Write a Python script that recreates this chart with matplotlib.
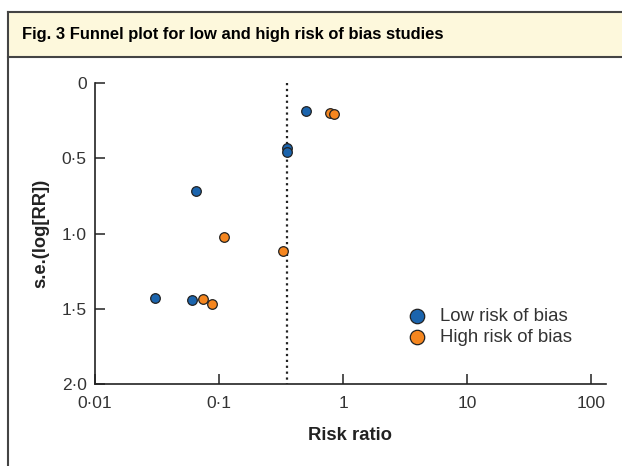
import matplotlib
matplotlib.use('Agg')
import matplotlib.pyplot as plt
from matplotlib.patches import Rectangle
from matplotlib.lines import Line2D

plt.rcParams['font.family'] = ['Liberation Sans', 'DejaVu Sans']

# Study data
low_rr = [0.50, 0.351, 0.353, 0.065, 0.0306, 0.0608]
low_se = [0.184, 0.434, 0.46, 0.716, 1.426, 1.442]
high_rr = [0.783, 0.847, 0.109, 0.327, 0.0747, 0.088]
high_se = [0.197, 0.205, 1.023, 1.116, 1.433, 1.466]
pooled_rr = 0.352

x_ticks = [0.01, 0.1, 1, 10, 100]
x_ticklabels = ['0·01', '0·1', '1', '10', '100']
y_ticks = [0, 0.5, 1.0, 1.5, 2.0]
y_ticklabels = ['0', '0·5', '1·0', '1·5', '2·0']

blue = '#1b64ad'
orange = '#f5861f'

W, H = 622, 466
fig = plt.figure(figsize=(W / 100, H / 100), dpi=100)

# header band and frame
fig.patches.append(Rectangle((8 / W, 1 - 57 / H), 1, 45 / H, transform=fig.transFigure,
                             facecolor='#fdf8dc', edgecolor='none', zorder=0))
frame = dict(transform=fig.transFigure, color='#444444', lw=1.5)
fig.lines.append(Line2D([8 / W, 8 / W], [0, 1 - 12 / H], **frame))
fig.lines.append(Line2D([8 / W, 1], [1 - 12 / H, 1 - 12 / H], **frame))
fig.lines.append(Line2D([8 / W, 1], [1 - 57 / H, 1 - 57 / H], **frame))
fig.text(22 / W, 1 - 35 / H, 'Fig. 3 Funnel plot for low and high risk of bias studies',
         fontsize=11.9, fontweight='bold', va='center', ha='left')

ax = fig.add_axes([95 / W, 1 - 384 / H, 511 / W, 301 / H])
ax.set_xscale('log')
ax.set_xlim(0.01, 132)
ax.set_ylim(2.0, 0)

ax.plot([pooled_rr, pooled_rr], [0, 2.0], color='#222222', linestyle=':', lw=1.6, zorder=1)

ax.scatter(low_rr, low_se, s=48, color=blue, edgecolor='#222222', linewidth=0.9,
           zorder=3, label='Low risk of bias')
ax.scatter(high_rr, high_se, s=48, color=orange, edgecolor='#222222', linewidth=0.9,
           zorder=3, label='High risk of bias')

for side in ['top', 'right']:
    ax.spines[side].set_visible(False)
for side in ['left', 'bottom']:
    ax.spines[side].set_linewidth(1.2)
    ax.spines[side].set_color('#222222')

ax.set_xticks(x_ticks)
ax.set_xticklabels(x_ticklabels)
ax.minorticks_off()
ax.set_yticks(y_ticks)
ax.set_yticklabels(y_ticklabels)
ax.tick_params(direction='in', length=7.5, width=1.1, color='#222222',
               labelsize=12.5, labelcolor='#333333')
ax.tick_params(axis='x', pad=9)
ax.tick_params(axis='y', pad=6)

ax.set_xlabel('Risk ratio', fontsize=13.3, fontweight='bold', color='#222222', labelpad=11)
ax.set_ylabel('s.e.(log[RR])', fontsize=13.2, fontweight='bold', color='#222222', labelpad=9)

leg = ax.legend(loc='center left', bbox_to_anchor=(0.612, 0.19), frameon=False,
                fontsize=13.4, handlelength=1.0, handletextpad=0.75, labelspacing=0.2,
                borderpad=0, borderaxespad=0, markerscale=1.5)
for t in leg.get_texts():
    t.set_color('#333333')

fig.savefig('out.png', dpi=100)
